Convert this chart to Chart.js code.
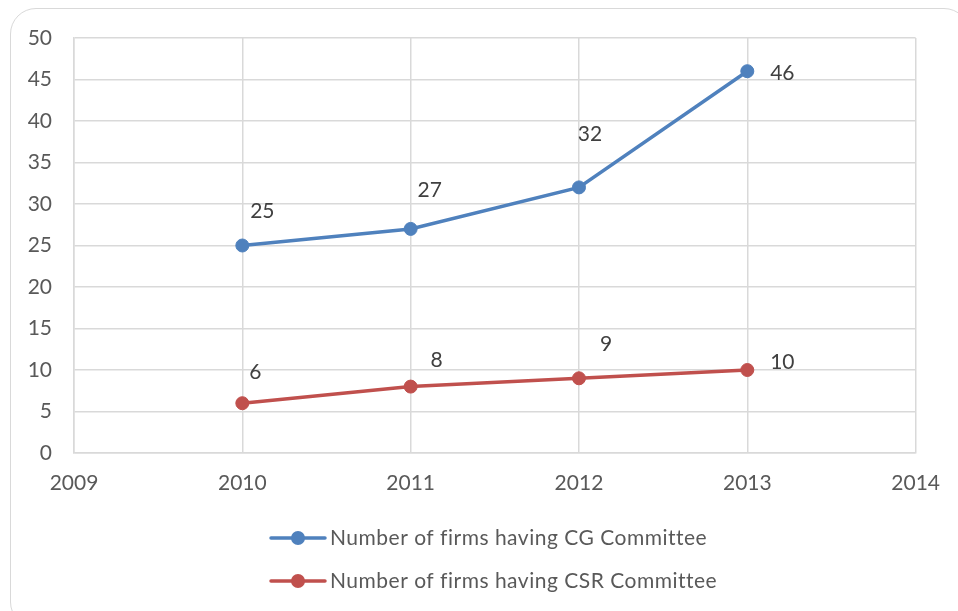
<!DOCTYPE html>
<html>
<head>
<meta charset="utf-8">
<script src="https://cdn.jsdelivr.net/npm/chart.js@4.4.1/dist/chart.umd.min.js"></script>
<style>
  html, body { margin: 0; padding: 0; background: #ffffff; }
  #wrap { position: relative; width: 958px; height: 611px; overflow: hidden; }
  #frame {
    position: absolute; left: 10px; top: 8px; width: 960px; height: 620px;
    border: 1.5px solid #d9d9d9; border-radius: 26px; box-sizing: border-box;
  }
  canvas { position: absolute; left: 0; top: 0; }
</style>
</head>
<body>
<div id="wrap">
  <div id="frame"></div>
  <canvas id="chart" width="958" height="611"></canvas>
</div>
<script>
// Years on the x axis and the committee counts per year
const years = [2010, 2011, 2012, 2013];
const cgCommittee = [25, 27, 32, 46];
const csrCommittee = [6, 8, 9, 10];
const seriesNames = ['Number of firms having CG Committee', 'Number of firms having CSR Committee'];
const xTicks = [2009, 2010, 2011, 2012, 2013, 2014];
const yTicks = [0, 5, 10, 15, 20, 25, 30, 35, 40, 45, 50];

const FONT = 'Lato, "Open Sans", "Liberation Sans", sans-serif';
const FONT_SIZE = 21;
const BLUE = '#4f81bd';
const RED = '#c0504d';

// Value labels next to each marker (offsets in px from the marker)
const valueLabels = {
  id: 'valueLabels',
  afterDatasetsDraw(chart, args, opts) {
    const ctx = chart.ctx;
    ctx.save();
    ctx.font = FONT_SIZE + 'px ' + FONT;
    ctx.fillStyle = '#404040';
    ctx.textAlign = 'center';
    ctx.textBaseline = 'middle';
    chart.data.datasets.forEach((ds, di) => {
      const meta = chart.getDatasetMeta(di);
      meta.data.forEach((pt, i) => {
        const off = opts.offsets[di][i];
        ctx.fillText(String(ds.data[i].y), pt.x + off[0], pt.y + off[1]);
      });
    });
    ctx.restore();
  }
};

// Stacked legend below the plot: line with a marker, then the series name
const stackedLegend = {
  id: 'stackedLegend',
  afterDraw(chart, args, opts) {
    const ctx = chart.ctx;
    ctx.save();
    chart.data.datasets.forEach((ds, di) => {
      const y = opts.top + di * opts.rowGap;
      ctx.strokeStyle = ds.borderColor;
      ctx.lineWidth = 3.5;
      ctx.lineCap = 'round';
      ctx.beginPath();
      ctx.moveTo(opts.left, y);
      ctx.lineTo(opts.left + 54, y);
      ctx.stroke();
      ctx.fillStyle = ds.pointBackgroundColor;
      ctx.beginPath();
      ctx.arc(opts.left + 27, y, 7, 0, Math.PI * 2);
      ctx.fill();
      ctx.font = FONT_SIZE + 'px ' + FONT;
      ctx.letterSpacing = '0.5px';
      ctx.fillStyle = '#595959';
      ctx.textAlign = 'left';
      ctx.textBaseline = 'middle';
      ctx.fillText(ds.label, opts.left + 59, y);
    });
    ctx.restore();
  }
};

const toPoints = vals => vals.map((v, i) => ({ x: years[i], y: v }));

new Chart(document.getElementById('chart'), {
  type: 'line',
  data: {
    datasets: [
      {
        label: seriesNames[0],
        data: toPoints(cgCommittee),
        borderColor: BLUE,
        backgroundColor: BLUE,
        pointBackgroundColor: BLUE,
        pointBorderColor: BLUE,
        borderWidth: 3.5,
        pointRadius: 6.5,
        pointBorderWidth: 1,
        tension: 0
      },
      {
        label: seriesNames[1],
        data: toPoints(csrCommittee),
        borderColor: RED,
        backgroundColor: RED,
        pointBackgroundColor: RED,
        pointBorderColor: RED,
        borderWidth: 3.5,
        pointRadius: 6.5,
        pointBorderWidth: 1,
        tension: 0
      }
    ]
  },
  options: {
    responsive: false,
    animation: false,
    layout: { padding: { left: 0, top: 38, right: 42, bottom: 118 } },
    plugins: {
      legend: { display: false },
      tooltip: { enabled: false },
      valueLabels: {
        offsets: [
          [[20, -34], [19, -39], [11, -53], [35, 2]],
          [[13, -31], [26, -26], [27, -34], [35, -8]]
        ]
      },
      stackedLegend: { left: 271, top: 538, rowGap: 43 }
    },
    scales: {
      x: {
        type: 'linear',
        min: xTicks[0],
        max: xTicks[xTicks.length - 1],
        afterBuildTicks: scale => { scale.ticks = xTicks.map(v => ({ value: v })); },
        afterFit: scale => { scale.height = 40; },
        ticks: {
          callback: v => String(v),
          font: { family: FONT, size: FONT_SIZE },
          color: '#595959',
          padding: 18,
          maxRotation: 0
        },
        grid: { color: '#d9d9d9', lineWidth: 1.5, drawTicks: false },
        border: { color: '#d9d9d9', width: 1.5 }
      },
      y: {
        min: yTicks[0],
        max: yTicks[yTicks.length - 1],
        afterBuildTicks: scale => { scale.ticks = yTicks.map(v => ({ value: v })); },
        afterFit: scale => { scale.width = 74; },
        ticks: {
          font: { family: FONT, size: FONT_SIZE },
          color: '#595959',
          padding: 22
        },
        grid: { color: '#d9d9d9', lineWidth: 1.5, drawTicks: false },
        border: { color: '#d9d9d9', width: 1.5 }
      }
    }
  },
  plugins: [valueLabels, stackedLegend]
});
</script>
</body>
</html>
